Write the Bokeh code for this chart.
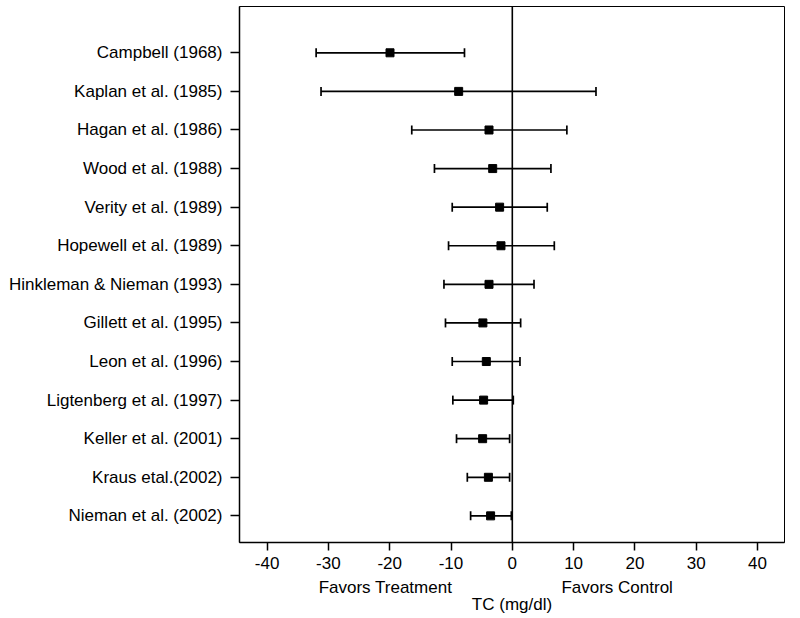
from bokeh.plotting import figure
from bokeh.models import (Range1d, FixedTicker, ColumnDataSource, Span, Whisker,
                          TeeHead, LinearAxis)
from bokeh.embed import file_html
from bokeh.resources import INLINE

# ---- data ----
studies = [
    "Campbell (1968)",
    "Kaplan et al. (1985)",
    "Hagan et al. (1986)",
    "Wood et al. (1988)",
    "Verity et al. (1989)",
    "Hopewell et al. (1989)",
    "Hinkleman & Nieman (1993)",
    "Gillett et al. (1995)",
    "Leon et al. (1996)",
    "Ligtenberg et al. (1997)",
    "Keller et al. (2001)",
    "Kraus etal.(2002)",
    "Nieman et al. (2002)",
]
effect = [-19.95, -8.75, -3.8, -3.2, -2.07, -1.85, -3.8, -4.8, -4.24, -4.68, -4.84, -3.9, -3.54]
lower = [-32.0, -31.2, -16.4, -12.7, -9.8, -10.4, -11.15, -10.9, -9.8, -9.7, -9.1, -7.34, -6.8]
upper = [-7.8, 13.65, 8.9, 6.3, 5.7, 6.85, 3.54, 1.36, 1.25, 0.16, -0.44, -0.44, -0.16]
x_ticks = [-40, -30, -20, -10, 0, 10, 20, 30, 40]
side_labels = ["Favors Treatment", "Favors Control"]
side_label_x = [-20.7, 17.1]
x_title = "TC (mg/dl)"

FONT = "Liberation Sans"
FS = "17px"

n = len(studies)
ypos = [n - i for i in range(n)]

src = ColumnDataSource(dict(y=ypos, est=effect, lo=lower, hi=upper))

p = figure(width=800, height=618, output_backend="svg", toolbar_location=None,
           x_range=Range1d(-44.5, 44.4), y_range=Range1d(0.31, 14.2),
           min_border_left=239, min_border_right=16, min_border_top=6,
           min_border_bottom=76)

p.grid.visible = False
p.background_fill_color = "white"
p.border_fill_color = "white"
p.outline_line_color = "black"
p.outline_line_width = 1

# main axes
p.xaxis.ticker = FixedTicker(ticks=x_ticks)
p.xaxis.major_label_overrides = {t: str(t) for t in x_ticks}
p.yaxis.ticker = FixedTicker(ticks=ypos)
p.yaxis.major_label_overrides = {y: s for y, s in zip(ypos, studies)}
for ax in (p.xaxis, p.yaxis):
    ax.axis_line_color = "black"
    ax.axis_line_width = 1.5
    ax.major_tick_line_color = "black"
    ax.major_tick_line_width = 1.5
    ax.major_tick_in = 0
    ax.minor_tick_line_color = None
    ax.major_label_text_font = FONT
    ax.major_label_text_font_size = FS
    ax.major_label_text_color = "black"
p.xaxis.major_tick_out = 8
p.xaxis.major_label_standoff = 6
p.yaxis.major_tick_out = 9
p.yaxis.major_label_standoff = 8

# second (label-only) axis below for the side texts and axis title
ax2 = LinearAxis(ticker=FixedTicker(ticks=side_label_x),
                 major_label_overrides={x: s for x, s in zip(side_label_x, side_labels)},
                 axis_line_color=None, major_tick_line_color=None,
                 minor_tick_line_color=None, major_tick_in=0, major_tick_out=0,
                 major_label_standoff=6,
                 major_label_text_font=FONT, major_label_text_font_size=FS,
                 major_label_text_color="black",
                 axis_label=x_title, axis_label_standoff=-5,
                 axis_label_text_font=FONT, axis_label_text_font_size=FS,
                 axis_label_text_font_style="normal", axis_label_text_color="black")
p.add_layout(ax2, "below")

# zero line
p.add_layout(Span(location=0, dimension="height", line_color="black", line_width=1.6))

# confidence intervals
w = Whisker(source=src, base="y", lower="lo", upper="hi", dimension="width",
            line_color="black", line_width=1.7,
            lower_head=TeeHead(size=9, line_color="black", line_width=1.7),
            upper_head=TeeHead(size=9, line_color="black", line_width=1.7))
p.add_layout(w)

# point estimates
p.scatter(x="est", y="y", source=src, marker="square", size=8,
          fill_color="black", line_color="black")

open("out.html", "w").write(file_html(p, INLINE))
